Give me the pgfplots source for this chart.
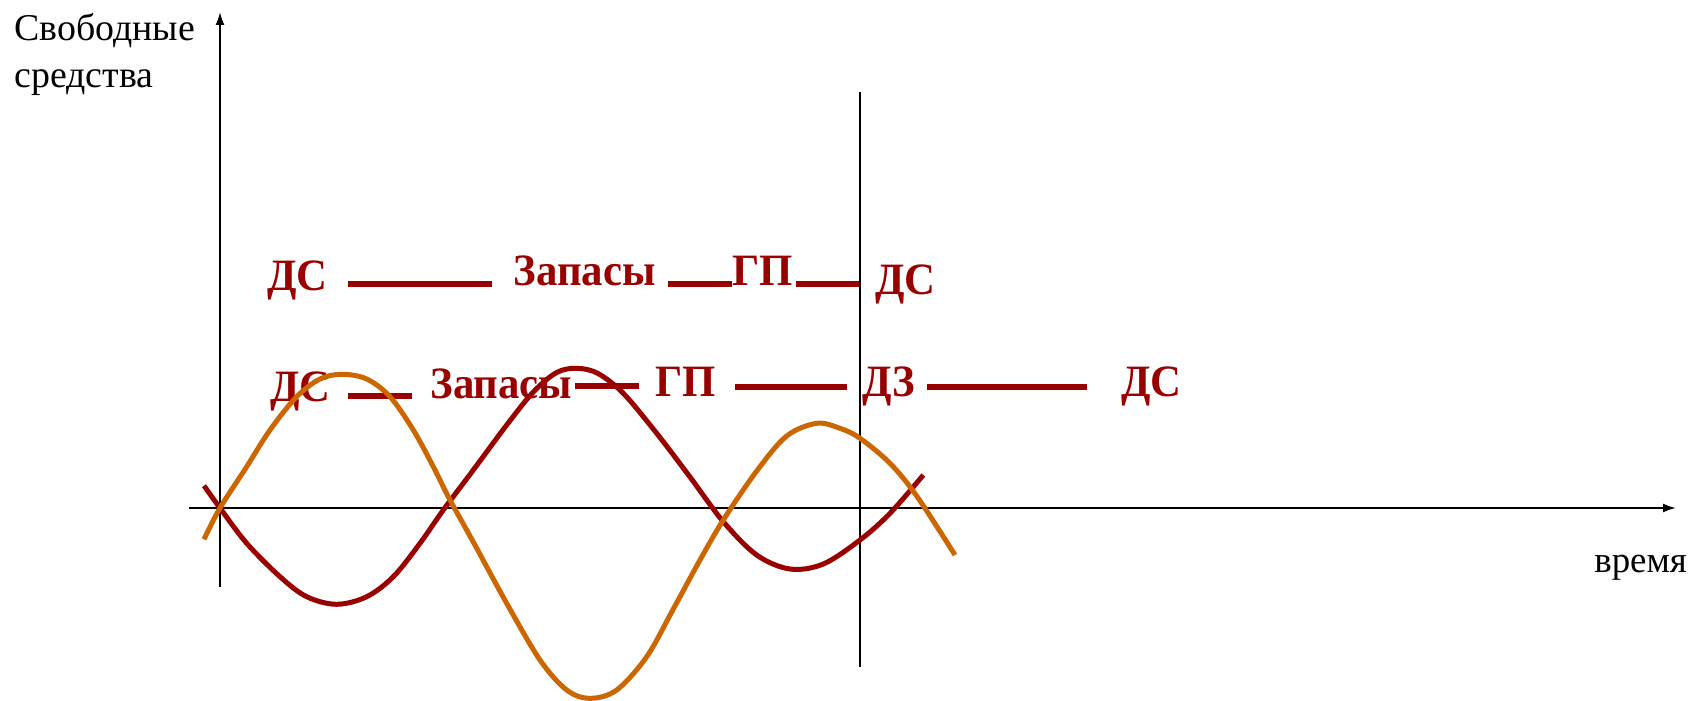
\documentclass[border=0pt]{standalone}
\usepackage{pgfplots}
\pgfplotsset{compat=1.18}
\usetikzlibrary{arrows.meta}
\usepackage{fontspec}
\setmainfont{Liberation Serif}
\newfontfamily\redfont[FakeStretch=0.955]{Liberation Serif Bold}
\definecolor{dred}{RGB}{153,0,0}
\definecolor{dorange}{RGB}{204,102,0}
\begin{document}
\begin{tikzpicture}
\begin{axis}[
  width=846bp, height=350.5bp, scale only axis,
  xmin=0, xmax=1692, ymin=0, ymax=701, y dir=reverse,
  axis lines=none, clip=false, no markers,
  every axis plot/.append style={line cap=butt},
]
\path (axis cs:0,0) rectangle (axis cs:1692,701);
% axes
\addplot[black, line width=1bp, -{Latex[length=6.5bp,width=4.5bp]}] coordinates {(220,587) (220,12)};
\addplot[black, line width=1bp, -{Latex[length=6.5bp,width=4.5bp]}] coordinates {(189,508) (1676,508)};
\addplot[black, line width=1bp] coordinates {(860,92) (860,667)};
% axis labels
\node[anchor=base west, inner sep=0, font=\fontsize{19}{19}\selectfont] at (axis cs:14,41) {Свободные};
\node[anchor=base west, inner sep=0, font=\fontsize{19}{19}\selectfont] at (axis cs:14,87) {средства};
\node[anchor=base west, inner sep=0, font=\fontsize{18.5}{18.5}\selectfont] at (axis cs:1594,572) {время};
% labels
\begin{scope}[every node/.style={anchor=base west, inner sep=0, text=dred, font=\fontsize{22.5}{22.5}\redfont}]
\node at (axis cs:266.7,290) {ДС};
\node at (axis cs:513.3,285) {Запасы};
\node at (axis cs:731.7,285) {ГП};
\node at (axis cs:875,294) {ДС};
\node at (axis cs:270,401.7) {ДС};
\node at (axis cs:430,398) {Запасы};
\node at (axis cs:655,396.7) {ГП};
\node at (axis cs:861.7,396.7) {ДЗ};
\node at (axis cs:1120.7,396.7) {ДС};
\end{scope}
% bars
\addplot[dred, line width=3bp] coordinates {(348.3,283.7) (491.7,283.7)};
\addplot[dred, line width=3bp] coordinates {(668,283.7) (731.7,283.7)};
\addplot[dred, line width=3bp] coordinates {(796,283.7) (859.3,283.7)};
\addplot[dred, line width=3bp] coordinates {(348,395.5) (411.7,395.5)};
\addplot[dred, line width=3bp] coordinates {(575,386) (639,386)};
\addplot[dred, line width=3bp] coordinates {(735,386.5) (846.7,386.5)};
\addplot[dred, line width=3bp] coordinates {(926.7,386.5) (1087.3,386.5)};
% curves
\addplot[dred, line width=2.5bp, smooth, tension=0.55] coordinates {
(204,485.7) (220,508) (246.7,543.3) (280,576.7) (306.7,596.7) (336.7,604.3)
(366.7,596.7) (393.3,576.7) (420,543.3) (443.3,510) (473.3,470) (506.7,425)
(533.3,392) (556.7,372.5) (577,368.3) (598,373.5) (623.3,393.3) (656.7,433.3)
(690,477) (723.3,521.7) (756.7,555) (790,569) (823.3,564) (860,540)
(890,513.3) (923.3,475)};
\addplot[dorange, line width=2.5bp, smooth, tension=0.55] coordinates {
(204,539.3) (220,508) (246.7,466.7) (270,430) (296.7,396.7) (320,379)
(342,374.3) (366.7,379) (390,396.7) (413.3,430) (433.3,466.7) (450,500)
(473.3,542) (506.7,603.3) (540,660) (566.7,690) (590,698.3) (616.7,690)
(646.7,656.7) (673.3,609) (700,560) (723.3,520) (756.7,471) (786.7,436)
(816.7,423.3) (840,428.3) (860,438.3) (890,463.3) (916.7,496) (955,555)};
\end{axis}
\end{tikzpicture}
\end{document}
